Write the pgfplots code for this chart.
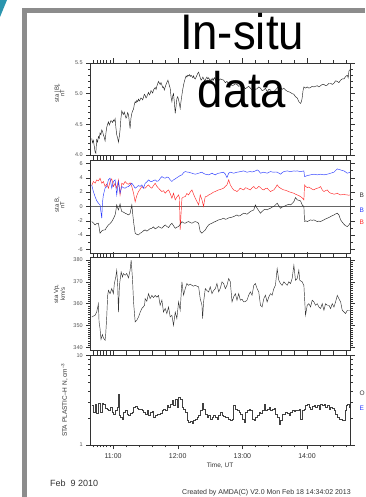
\documentclass[border=0pt]{standalone}
\usepackage{pgfplots}
\pgfplotsset{compat=1.18}
\usepackage{fontspec}
\setmainfont{Liberation Sans}
\definecolor{tealc}{HTML}{2B95AE}
\definecolor{frameg}{HTML}{8C8C8C}
\definecolor{bblue}{HTML}{2A3BFF}
\definecolor{bred}{HTML}{FF2A2A}
\definecolor{axg}{HTML}{333333}
\definecolor{tlg}{HTML}{555555}
\pgfplotsset{
 panel/.style={
  scale only axis, width=259.3pt, anchor=south west,
  xmin=39.24, xmax=279.9,
  xtick={60,120,180,240}, xticklabels={},
  minor xtick={42,45,48,51,54,57,72,84,96,108,132,144,156,168,192,204,216,228,252,264,276},
  tick align=outside, tick pos=both,
  major tick length=4.5pt, minor tick length=2.5pt,
  axis line style={axg, line width=0.5pt},
  every tick/.style={axg, line width=0.4pt},
  tick label style={font=\fontsize{5.5}{6}\selectfont, text=tlg},
  /pgf/number format/assume math mode=true,
  clip=true,
 },
 dl/.style={line width=0.45pt, mark=none},
}
\begin{document}
\begin{tikzpicture}
\path[use as bounding box, fill=white] (0pt,0pt) rectangle (365pt,497pt);
\fill[tealc] (0pt,497pt) -- (7pt,497pt) -- (0pt,480pt) -- cycle;
\fill[frameg] (21.7pt,0pt) rectangle (26.7pt,488.7pt);
\fill[frameg] (21.7pt,483.7pt) rectangle (365pt,488.7pt);

% Panel 1 |B|
\begin{axis}[panel, at={(90.7pt,342pt)}, height=92pt, ymin=4.0, ymax=5.5,
  ytick={4.0,4.5,5.0,5.5}, minor ytick={4.1,4.2,4.3,4.4,4.6,4.7,4.8,4.9,5.1,5.2,5.3,5.4},
  yticklabel style={/pgf/number format/.cd, fixed, fixed zerofill, precision=1}]
\addplot[dl, black!85] coordinates {
(40.2,4.27)(41.0,4.20)(41.7,4.24)(42.5,4.15)(43.3,4.05)(44.0,4.03)(44.8,4.25)(45.6,4.21)(46.4,4.30)(47.2,4.27)
(47.9,4.36)(48.7,4.33)(49.5,4.41)(50.3,4.38)(51.0,4.33)(51.8,4.29)(52.6,4.23)(53.4,4.36)(54.1,4.45)(54.9,4.50)
(55.7,4.54)(56.5,4.49)(57.2,4.52)(58.0,4.56)(58.8,4.55)(59.6,4.53)(60.3,4.57)(61.1,4.55)(61.9,4.59)(62.6,4.45)
(63.4,4.33)(64.2,4.28)(65.0,4.21)(65.8,4.30)(66.5,4.41)(67.3,4.60)(68.1,4.72)(68.9,4.68)(69.6,4.66)(70.4,4.70)
(71.2,4.65)(72.0,4.60)(72.7,4.62)(73.5,4.69)(74.3,4.66)(75.0,4.55)(75.8,4.43)(76.6,4.60)(77.4,4.68)(78.2,4.72)
(79.0,4.75)(79.8,4.83)(80.5,4.87)(81.3,4.85)(82.0,4.89)(82.8,4.87)(83.6,4.91)(84.4,4.88)(85.1,4.90)(85.9,4.93)
(86.7,4.92)(87.5,4.90)(88.2,4.94)(89.0,4.99)(89.8,4.97)(90.6,4.93)(91.3,4.95)(92.1,4.99)(92.9,5.02)(93.7,4.98)
(94.4,5.00)(95.2,5.05)(96.0,5.03)(96.8,5.01)(97.5,5.06)(98.3,5.08)(99.1,5.10)(99.9,5.07)(100.6,5.12)(101.4,5.16)
(102.2,5.20)(103.0,5.17)(103.7,5.15)(104.5,5.18)(105.3,5.14)(106.1,5.10)(106.8,5.11)(107.6,5.06)(108.4,5.11)(109.2,5.15)
(110.1,5.19)(110.9,5.22)(111.7,5.17)(112.4,5.12)(113.0,5.09)(113.8,4.95)(114.6,4.87)(115.3,4.96)(116.1,5.00)(116.9,4.85)
(117.7,4.68)(118.5,4.80)(119.2,4.92)(120.0,4.95)(120.8,4.90)(121.5,4.84)(122.3,4.76)(123.1,4.88)(123.9,4.98)(124.6,5.06)
(125.4,5.14)(126.2,5.20)(127.0,5.25)(127.8,5.29)(128.5,5.27)(129.3,5.30)(130.1,5.29)(130.9,5.31)(131.6,5.28)(132.4,5.30)
(133.2,5.28)(134.0,5.26)(134.7,5.29)(135.5,5.25)(136.3,5.24)(137.1,5.27)(137.8,5.30)(138.6,5.33)(139.4,5.35)(140.2,5.30)
(140.9,5.26)(141.7,5.22)(142.5,5.24)(143.3,5.27)(144.0,5.25)(144.8,5.21)(145.6,5.22)(146.4,5.25)(147.1,5.27)(147.9,5.24)
(148.7,5.26)(149.5,5.23)(150.2,5.19)(151.0,5.24)(151.8,5.21)(152.6,5.25)(153.3,5.22)(154.1,5.26)(154.9,5.24)(155.7,5.20)
(156.4,5.23)(157.2,5.25)(158.0,5.21)(159.5,5.24)(161.1,5.23)(162.6,5.22)(164.2,5.18)(165.7,5.20)(167.3,5.16)(168.8,5.17)
(170.4,5.13)(171.9,5.14)(173.5,5.16)(175.0,5.15)(176.6,5.12)(178.1,5.13)(179.7,5.10)(181.3,5.11)(182.8,5.08)(184.3,5.10)
(185.9,5.12)(187.4,5.09)(189.0,5.06)(190.6,5.11)(192.1,5.07)(193.7,5.08)(195.2,5.11)(196.8,5.09)(198.3,5.05)(199.9,5.06)
(201.4,5.09)(203.0,5.03)(204.5,5.07)(206.1,5.06)(207.6,5.01)(209.2,5.03)(210.7,5.06)(212.3,5.09)(213.8,5.12)(215.4,5.10)
(216.9,5.07)(218.5,5.09)(220.0,5.06)(221.6,5.04)(223.1,5.03)(224.7,5.02)(226.2,5.00)(227.8,4.99)(229.3,4.95)(230.9,4.93)
(232.4,4.87)(234.0,4.84)(234.8,4.87)(235.5,4.93)(236.3,5.05)(237.1,5.11)(237.9,5.10)(238.6,5.09)(240.2,5.11)(241.7,5.09)
(243.3,5.10)(244.8,5.12)(246.4,5.11)(247.9,5.12)(249.5,5.13)(251.0,5.11)(252.6,5.13)(254.1,5.15)(255.7,5.15)(257.2,5.13)
(258.8,5.14)(260.3,5.17)(261.9,5.17)(263.4,5.15)(265.0,5.17)(266.5,5.21)(268.1,5.20)(269.6,5.18)(271.2,5.22)(272.7,5.24)
(274.3,5.24)(275.8,5.28)(277.4,5.30)(278.2,5.26)(278.9,5.37)(279.9,5.39)};
\end{axis}

% Panel 2 B components
\begin{axis}[panel, at={(90.7pt,244pt)}, height=93.2pt, ymin=-6.5, ymax=6.5,
  ytick={-6,-4,-2,0,2,4,6}, minor ytick={-5,-3,-1,1,3,5}]
\addplot[line width=0.5pt, black!60] coordinates {(39.24,0)(279.9,0)};
\addplot[dl, bred] coordinates {
(40.2,2.91)(41.7,3.47)(43.3,3.23)(44.8,3.70)(46.4,3.56)(47.9,3.93)(49.5,3.23)(51.0,3.47)(52.6,2.77)(54.1,3.10)
(55.7,2.54)(57.2,3.47)(58.8,3.84)(60.3,2.77)(61.9,3.23)(63.4,2.54)(65.0,3.70)(66.5,1.60)(68.1,3.23)(69.6,3.05)
(71.2,3.47)(72.7,3.20)(74.3,3.09)(75.8,3.30)(77.4,2.77)(79.0,1.84)(80.5,0.65)(82.0,1.50)(83.6,2.07)(85.1,2.40)
(86.7,2.77)(88.2,2.60)(89.8,2.54)(91.3,2.80)(92.9,3.00)(94.4,2.70)(96.0,2.54)(97.5,2.90)(99.1,3.23)(100.6,2.80)
(102.2,2.54)(103.7,2.30)(105.3,2.07)(106.8,2.20)(108.4,1.84)(109.9,2.10)(111.5,2.30)(113.0,1.80)(114.6,1.14)(116.1,1.84)
(117.7,0.91)(119.2,1.30)(120.8,1.60)(121.6,1.20)(122.3,-3.28)(123.1,-1.00)(123.9,1.14)(125.4,1.30)(127.0,1.37)(128.5,1.80)
(130.1,1.60)(131.6,2.00)(133.2,2.30)(134.7,1.70)(136.3,1.14)(137.8,0.70)(139.4,0.21)(140.2,0.90)(140.9,1.60)(142.5,0.91)
(144.0,-0.02)(144.8,0.80)(145.6,1.37)(147.1,1.40)(148.7,1.60)(150.2,1.70)(151.8,1.84)(153.3,2.00)(154.9,2.07)(156.4,2.20)
(158.0,2.30)(160.3,2.40)(162.6,2.54)(164.2,2.80)(165.7,3.00)(167.3,3.70)(168.8,3.00)(170.4,2.60)(171.9,2.30)(173.5,2.20)
(175.0,2.07)(176.6,2.30)(178.1,2.54)(179.7,2.40)(181.3,2.30)(182.8,2.60)(184.3,2.54)(185.9,2.40)(187.4,2.30)(189.0,2.60)
(190.6,2.77)(192.1,2.50)(193.7,2.54)(195.2,2.80)(196.8,2.63)(198.3,2.40)(199.9,2.30)(201.4,2.50)(203.0,2.54)(204.5,2.30)
(206.1,2.07)(207.6,2.20)(209.2,2.30)(210.7,2.60)(212.3,3.00)(213.8,2.70)(215.4,2.54)(216.9,2.40)(218.5,2.30)(220.0,2.25)
(221.6,2.16)(223.1,2.05)(224.7,1.98)(226.2,1.90)(227.8,1.84)(229.3,1.70)(230.9,1.60)(232.4,1.50)(234.0,1.37)(235.5,1.20)
(237.1,0.91)(237.7,3.00)(238.6,2.80)(240.2,2.63)(241.7,2.70)(243.3,2.54)(244.8,2.40)(246.4,2.30)(247.9,2.45)(249.5,2.54)
(251.0,2.60)(252.6,2.77)(254.1,2.30)(255.7,2.07)(257.2,2.20)(258.8,2.30)(260.3,2.00)(261.9,1.84)(263.4,1.80)(265.0,1.70)
(266.5,1.75)(268.1,1.84)(269.6,1.70)(271.2,1.60)(272.7,1.65)(274.3,1.70)(275.8,1.62)(277.4,1.60)(278.9,1.55)(279.9,1.60)};
\addplot[dl, bblue] coordinates {
(40.2,3.00)(41.7,2.07)(43.3,1.37)(44.8,0.80)(46.4,0.44)(47.9,0.21)(49.5,-1.65)(50.1,0.44)(51.0,1.60)(52.6,2.54)
(54.1,2.77)(55.7,3.70)(57.2,3.93)(58.8,2.54)(60.3,3.47)(61.9,3.70)(63.4,1.60)(65.0,3.47)(66.5,1.84)(68.1,2.77)
(69.6,2.60)(71.2,2.54)(72.7,2.70)(74.3,2.77)(75.8,3.00)(77.4,3.23)(79.0,2.90)(80.5,2.54)(82.0,2.70)(83.6,2.91)
(85.1,2.80)(86.7,3.00)(88.2,2.54)(89.8,3.23)(91.3,3.40)(92.9,3.70)(94.4,3.50)(96.0,3.47)(97.5,3.60)(99.1,3.70)
(100.6,3.50)(102.2,3.56)(103.7,3.90)(105.3,4.16)(106.8,4.00)(108.4,3.93)(109.9,4.10)(111.5,4.02)(113.0,3.70)(114.6,3.47)
(116.1,3.70)(117.7,3.84)(119.2,4.00)(120.8,4.16)(122.3,4.30)(123.9,4.40)(125.4,4.70)(127.0,4.86)(128.5,4.80)(130.1,4.77)
(131.6,4.70)(133.2,4.63)(134.7,4.55)(136.3,4.49)(137.8,4.55)(139.4,4.63)(140.9,4.70)(142.5,4.77)(144.0,4.60)(145.6,4.49)
(147.1,4.45)(148.7,4.40)(150.2,4.50)(151.8,4.63)(153.3,4.50)(154.9,4.40)(156.4,4.55)(158.0,4.63)(160.3,4.70)(162.6,4.77)
(164.2,4.50)(165.7,4.02)(167.3,4.63)(168.8,4.77)(170.4,4.70)(171.9,4.63)(173.5,4.70)(175.0,4.77)(176.6,4.80)(178.1,4.86)
(179.7,4.90)(181.3,4.95)(182.8,4.85)(184.3,4.77)(185.9,4.82)(187.4,4.86)(189.0,4.80)(190.6,4.86)(192.1,4.95)(193.7,5.09)
(195.2,4.95)(196.8,4.63)(198.3,4.70)(199.9,4.77)(201.4,4.70)(203.0,4.63)(204.5,4.75)(206.1,4.86)(207.6,4.80)(209.2,4.77)
(210.7,4.80)(212.3,4.77)(213.8,4.65)(215.4,4.49)(216.9,4.70)(218.5,4.86)(220.0,4.90)(221.6,4.95)(223.1,4.90)(224.7,4.86)
(226.2,4.90)(227.8,4.95)(229.3,4.92)(230.9,4.95)(232.4,4.90)(234.0,4.86)(235.5,4.90)(237.1,4.95)(237.7,4.16)(238.6,4.20)
(240.2,4.30)(241.7,4.35)(243.3,4.40)(244.8,4.45)(246.4,4.49)(247.9,4.45)(249.5,4.40)(251.0,4.45)(252.6,4.49)(254.1,4.45)
(255.7,4.40)(257.2,4.45)(258.8,4.49)(260.3,4.55)(261.9,4.63)(263.4,4.70)(265.0,4.77)(266.5,5.00)(268.1,5.23)(269.6,5.15)
(271.2,5.09)(272.7,5.00)(274.3,4.95)(275.8,4.80)(277.4,4.63)(278.9,4.70)(279.9,4.77)};
\addplot[dl, black!85] coordinates {
(40.2,-2.12)(41.7,-2.30)(43.3,-2.58)(44.8,-2.40)(46.4,-2.35)(47.9,-3.74)(49.5,-3.42)(51.0,-3.30)(52.6,-3.28)(54.1,-2.90)
(55.7,-2.58)(57.2,-2.40)(58.8,-2.12)(60.3,-1.70)(61.9,-1.19)(62.6,-0.60)(63.4,0.21)(64.2,-0.20)(65.0,-0.49)(65.8,0.00)
(66.5,0.35)(67.3,-0.30)(68.1,-0.72)(69.6,-0.80)(71.2,-0.95)(72.7,-1.05)(74.3,-1.19)(75.8,-1.00)(76.6,-0.40)(77.4,0.21)
(78.2,-1.00)(79.0,-2.12)(79.8,-3.00)(80.5,-3.74)(82.0,-3.90)(83.6,-3.98)(85.1,-3.75)(86.7,-3.61)(88.2,-3.40)(89.8,-3.28)
(91.3,-3.45)(92.9,-3.28)(94.4,-3.10)(96.0,-3.05)(97.5,-2.85)(99.1,-3.14)(100.6,-3.00)(102.2,-2.81)(103.7,-2.95)(105.3,-3.05)
(106.8,-2.80)(108.4,-2.58)(109.9,-2.80)(111.5,-2.95)(113.0,-2.60)(114.6,-2.35)(116.1,-2.70)(117.7,-3.05)(119.2,-2.90)(120.8,-2.81)
(122.3,-2.50)(123.9,-2.12)(125.4,-2.30)(127.0,-2.35)(128.5,-2.20)(130.1,-2.12)(131.6,-2.25)(133.2,-2.35)(134.7,-2.20)(136.3,-2.12)
(137.8,-2.20)(139.4,-2.35)(140.2,-3.00)(140.9,-3.51)(142.5,-3.74)(144.0,-3.50)(145.6,-3.28)(147.1,-2.90)(148.7,-2.58)(150.2,-2.45)
(151.8,-2.35)(153.3,-2.20)(154.9,-2.12)(156.4,-2.00)(158.0,-1.88)(160.3,-1.80)(162.6,-1.65)(164.2,-1.80)(165.7,-1.74)(167.3,-1.60)
(168.8,-1.56)(170.4,-1.50)(171.9,-1.42)(173.5,-1.30)(175.0,-1.19)(176.6,-1.35)(178.1,-1.28)(179.7,-1.10)(181.3,-0.95)(182.8,-1.00)
(184.3,-1.09)(185.9,-0.90)(187.4,-0.72)(189.0,-0.60)(190.6,-0.49)(191.4,-0.10)(192.1,0.21)(193.7,-0.26)(195.2,-0.60)(196.8,-0.95)
(198.3,-0.70)(199.9,-0.49)(201.4,-0.40)(203.0,-0.49)(204.5,-0.35)(206.1,-0.26)(207.6,-0.10)(209.2,-0.02)(210.7,0.20)(212.3,0.44)
(213.8,0.10)(215.4,-0.26)(216.9,-0.10)(218.5,-0.02)(220.0,0.10)(221.6,0.21)(223.1,0.30)(224.7,0.21)(226.2,0.40)(227.8,0.67)
(229.3,1.23)(230.9,0.91)(232.4,0.85)(234.0,0.77)(235.5,0.21)(237.1,-0.02)(237.7,-2.12)(239.0,-2.00)(240.2,-2.12)(241.7,-2.00)
(243.3,-1.88)(244.8,-1.95)(246.4,-1.88)(247.9,-2.00)(249.5,-2.12)(251.0,-2.05)(252.6,-2.12)(254.1,-2.00)(255.7,-1.88)(257.2,-1.75)
(258.8,-1.65)(260.3,-1.55)(261.9,-1.42)(263.4,-1.30)(265.0,-1.19)(266.5,-1.05)(268.1,-0.95)(269.6,-1.19)(271.2,-1.88)(272.7,-2.20)
(274.3,-2.49)(275.8,-2.70)(277.4,-2.81)(278.9,-2.58)(279.9,-2.35)};
\end{axis}

% Panel 3 Vp
\begin{axis}[panel, at={(90.7pt,146.5pt)}, height=93.6pt, ymin=338.6, ymax=381.4,
  ytick={340,350,360,370,380}, minor y tick num=9]
\addplot[dl, black!80] coordinates {
(40.2,353.9)(43.3,354.7)(44.8,356.2)(46.4,360.0)(47.0,351.7)(47.9,348.6)(48.8,343.7)(50.1,345.9)(51.0,344.4)(52.6,343.3)
(53.2,346.3)(54.1,353.9)(55.0,363.8)(55.7,366.1)(57.2,364.6)(58.8,366.9)(60.3,364.6)(61.2,369.2)(62.5,372.2)(63.4,375.3)
(64.3,368.4)(65.0,356.2)(65.9,368.4)(67.5,374.5)(68.7,372.2)(69.6,373.8)(71.2,373.0)(72.7,373.8)(74.3,371.8)(75.8,375.3)
(76.8,379.9)(78.0,371.5)(79.0,360.8)(80.5,351.7)(82.0,352.4)(83.6,353.9)(85.1,356.0)(86.7,357.8)(88.0,358.5)(89.2,359.3)
(89.8,362.3)(91.3,361.1)(92.9,364.6)(94.4,362.3)(96.0,363.8)(97.5,362.8)(99.1,363.8)(100.6,363.0)(102.2,363.8)(103.7,359.3)
(105.3,361.6)(106.8,356.2)(108.4,357.8)(109.9,355.5)(111.5,358.5)(113.0,354.0)(114.6,354.7)(116.1,350.1)(117.7,356.2)(119.2,353.2)
(120.8,360.8)(122.3,357.0)(123.9,370.0)(125.4,363.9)(127.0,366.9)(128.5,369.2)(130.1,368.4)(131.6,368.9)(133.2,368.4)(134.7,368.0)
(136.3,368.4)(137.8,368.0)(139.4,367.7)(140.9,362.3)(142.5,359.3)(143.1,353.2)(144.0,360.8)(145.6,366.9)(147.1,366.0)(148.7,365.4)
(150.2,367.7)(151.8,364.6)(153.3,366.0)(154.9,366.9)(156.4,369.2)(158.0,365.4)(159.5,367.0)(161.1,370.0)(162.6,369.2)(164.2,366.9)
(165.7,368.4)(167.3,371.5)(168.8,370.0)(170.4,360.8)(171.9,363.1)(173.5,364.6)(175.0,361.6)(176.6,364.6)(178.1,361.6)(179.7,362.0)
(181.3,360.8)(182.8,361.0)(184.3,361.6)(185.9,363.9)(187.4,365.4)(189.0,363.9)(190.6,368.4)(192.1,369.2)(193.7,366.9)(195.2,365.4)
(196.8,359.3)(198.3,358.5)(199.9,362.3)(201.4,363.9)(203.0,360.8)(204.5,363.0)(206.1,364.6)(207.6,363.9)(209.2,366.9)(210.7,368.4)
(212.3,376.0)(213.8,370.7)(215.4,369.2)(216.9,368.4)(218.5,370.0)(220.0,369.2)(221.6,368.4)(223.1,370.0)(224.7,369.2)(226.2,371.5)
(227.8,377.6)(229.3,370.7)(230.9,371.5)(232.4,375.3)(233.3,370.7)(235.5,370.0)(237.1,368.4)(238.6,354.7)(240.2,359.3)(241.7,360.0)
(243.3,358.5)(244.8,361.6)(246.4,360.8)(247.9,359.3)(249.5,360.0)(251.0,358.5)(252.6,357.8)(254.1,360.0)(255.7,357.0)(257.2,360.0)
(258.8,359.3)(260.3,359.3)(261.9,357.8)(263.4,360.0)(265.0,358.5)(266.5,360.8)(268.1,363.8)(269.6,362.3)(271.2,360.8)(272.7,357.0)
(274.3,356.2)(275.8,355.5)(277.4,357.0)(279.9,357.0)};
\end{axis}

% Panel 4 N
\begin{axis}[panel, at={(90.7pt,52pt)}, height=89.5pt, ymode=log, ymin=1, ymax=10,
  ytick={1,10}, log ticks with fixed point,
  xticklabels={11:00,12:00,13:00,14:00},
  xticklabel style={font=\fontsize{7}{8}\selectfont, text=axg, yshift=-1pt}]
\addplot[line width=0.4pt, mark=none, const plot, black!75] coordinates {
(40.2,2.76)(41.7,2.33)(43.3,2.88)(44.8,2.27)(46.4,2.93)(47.9,2.33)(49.5,2.93)(51.0,2.88)(52.6,2.60)(54.1,2.54)
(55.7,2.43)(57.2,2.65)(58.8,2.33)(60.3,2.23)(61.9,2.43)(63.4,2.65)(65.0,3.73)(65.9,2.14)(66.5,2.05)(68.1,1.96)
(69.6,2.33)(71.2,2.43)(72.7,2.23)(74.3,2.14)(75.8,2.25)(77.4,2.33)(79.0,2.65)(80.5,2.69)(82.0,2.60)(83.6,2.54)
(85.1,2.50)(86.7,2.43)(88.2,2.30)(89.8,2.23)(91.3,2.43)(92.9,2.14)(94.4,2.33)(96.0,2.39)(97.5,2.05)(99.1,2.14)
(100.6,2.23)(102.2,2.23)(103.7,2.27)(105.3,2.43)(106.8,2.54)(108.4,2.43)(109.9,2.76)(111.5,2.65)(113.0,2.88)(114.6,3.14)
(116.1,2.76)(117.7,3.28)(119.2,2.65)(120.8,3.42)(122.3,3.28)(123.9,2.65)(125.4,2.54)(127.0,2.33)(128.5,1.91)(130.1,1.80)
(131.6,1.85)(133.2,1.75)(134.7,1.88)(136.3,1.96)(137.8,2.05)(139.4,2.14)(140.9,2.43)(142.5,2.93)(144.0,2.54)(145.6,2.23)
(147.1,2.05)(148.7,2.14)(150.2,1.96)(151.8,2.05)(153.3,2.14)(154.9,2.05)(156.4,1.96)(158.0,2.14)(159.5,2.33)(161.1,2.14)
(162.6,2.08)(164.2,2.05)(165.7,2.05)(167.3,1.96)(168.8,1.88)(170.4,1.96)(171.9,2.76)(173.5,2.54)(175.0,2.43)(176.6,2.33)
(178.1,2.23)(179.7,1.96)(181.3,1.80)(182.8,2.33)(184.3,2.47)(185.9,2.54)(187.4,2.43)(189.0,1.96)(190.6,1.88)(192.1,2.05)
(193.7,2.14)(195.2,2.33)(196.8,2.27)(198.3,2.43)(199.9,2.88)(201.4,2.43)(203.0,2.54)(204.5,2.65)(206.1,2.43)(207.6,2.54)
(209.2,2.60)(210.7,2.23)(212.3,2.05)(213.8,1.72)(215.4,1.88)(216.9,2.19)(218.5,2.23)(220.0,2.33)(221.6,2.27)(223.1,2.14)
(224.7,2.33)(226.2,2.43)(227.8,2.39)(229.3,2.47)(230.9,2.43)(232.4,2.54)(234.0,1.96)(235.5,2.43)(237.1,2.54)(238.6,2.76)
(240.2,2.84)(241.7,2.65)(243.3,2.54)(244.8,2.69)(246.4,2.76)(247.9,2.65)(249.5,2.76)(251.0,2.54)(252.6,2.88)(254.1,2.76)
(255.7,2.84)(257.2,2.65)(258.8,2.76)(260.3,2.54)(261.9,2.65)(263.4,2.55)(265.0,2.47)(266.5,2.23)(268.1,2.05)(269.6,1.96)
(271.2,1.96)(272.7,1.91)(274.3,1.88)(275.2,2.43)(276.8,2.76)(277.4,2.88)(278.9,2.65)(279.9,2.84)};
\end{axis}

% y labels
\node[rotate=90, align=center, font=\fontsize{6}{5.5}\selectfont, text=axg] at (59.5pt,404pt) {sta |B|,\\nT};
\node[rotate=90, align=center, font=\fontsize{6}{5.5}\selectfont, text=axg] at (59.5pt,292pt) {sta B,\\nT};
\node[rotate=90, align=center, font=\fontsize{6}{5.5}\selectfont, text=axg] at (59.5pt,203pt) {sta Vp,\\km/s};
\node[rotate=90, font=\fontsize{6.5}{7}\selectfont, text=axg] at (64.5pt,97pt) {STA PLASTIC–H N, cm\textsuperscript{–3}};
% right-side labels (truncated at the page edge in the reference)
\node[anchor=west, inner sep=0pt, font=\fontsize{6.5}{8}\selectfont, text=axg] at (359.5pt,302pt) {B};
\node[anchor=west, inner sep=0pt, font=\fontsize{6.5}{8}\selectfont, text=bblue] at (359.5pt,287pt) {B};
\node[anchor=west, inner sep=0pt, font=\fontsize{6.5}{8}\selectfont, text=bred] at (359.5pt,275pt) {B};
\node[anchor=west, inner sep=0pt, font=\fontsize{6.5}{8}\selectfont, text=axg] at (359.5pt,104pt) {O};
\node[anchor=west, inner sep=0pt, font=\fontsize{6.5}{8}\selectfont, text=bblue] at (359.5pt,89pt) {E};
% bottom texts
\node[font=\fontsize{6.5}{7}\selectfont, text=axg] at (220pt,31pt) {Time, UT};
\node[anchor=base west, inner sep=0pt, font=\fontsize{9}{10}\selectfont, text=axg] at (50pt,10pt) {Feb\ \ 9 2010};
\node[anchor=base west, inner sep=0pt, font=\fontsize{7}{8}\selectfont, text=axg] at (182pt,2.5pt) {Created by AMDA(C) V2.0 Mon Feb 18 14:34:02 2013};
% title
\node[anchor=base, inner sep=0pt, xscale=0.91, font=\fontsize{50}{50}\selectfont] at (242pt,447pt) {In-situ};
\node[anchor=base, inner sep=0pt, xscale=0.91, font=\fontsize{50}{50}\selectfont] at (242pt,389pt) {data};
\end{tikzpicture}
\end{document}
